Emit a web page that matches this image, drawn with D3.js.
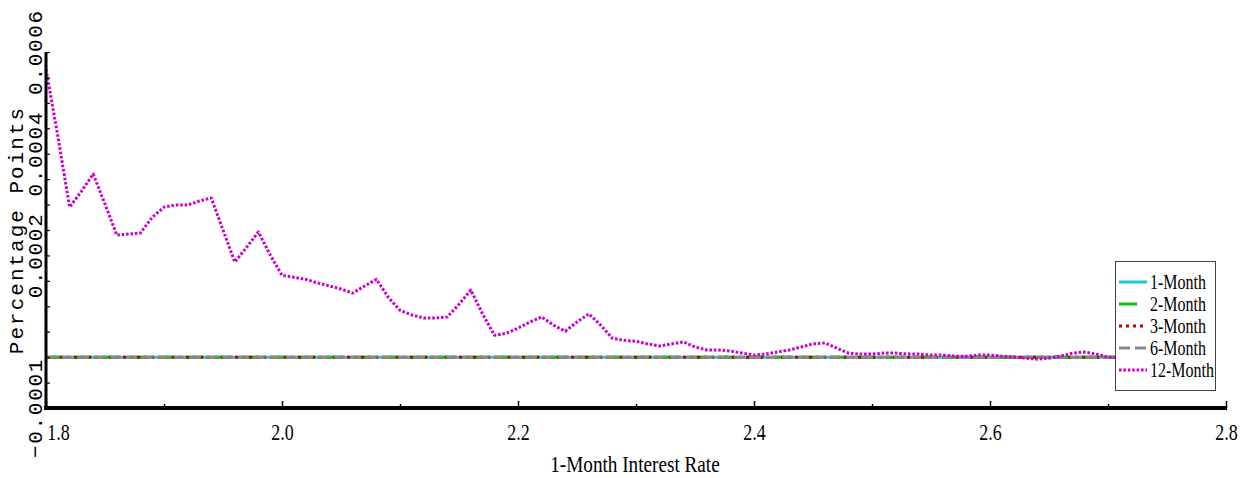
<!DOCTYPE html>
<html>
<head>
<meta charset="utf-8">
<script src="https://cdn.jsdelivr.net/npm/d3@7"></script>
<style>
  html, body { margin: 0; padding: 0; background: #fff; }
  svg { display: block; }
</style>
</head>
<body>
<svg id="chart" width="1248" height="478"></svg>
<script>
// 1-month interest rate grid (x axis values)
const rates = [
  1.80, 1.81, 1.82, 1.83, 1.84, 1.85, 1.86, 1.87, 1.88, 1.89,
  1.90, 1.91, 1.92, 1.93, 1.94, 1.95, 1.96, 1.97, 1.98, 1.99,
  2.00, 2.01, 2.02, 2.03, 2.04, 2.05, 2.06, 2.07, 2.08, 2.09,
  2.10, 2.11, 2.12, 2.13, 2.14, 2.15, 2.16, 2.17, 2.18, 2.19,
  2.20, 2.21, 2.22, 2.23, 2.24, 2.25, 2.26, 2.27, 2.28, 2.29,
  2.30, 2.31, 2.32, 2.33, 2.34, 2.35, 2.36, 2.37, 2.38, 2.39,
  2.40, 2.41, 2.42, 2.43, 2.44, 2.45, 2.46, 2.47, 2.48, 2.49,
  2.50, 2.51, 2.52, 2.53, 2.54, 2.55, 2.56, 2.57, 2.58, 2.59,
  2.60, 2.61, 2.62, 2.63, 2.64, 2.65, 2.66, 2.67, 2.68, 2.69,
  2.70, 2.71, 2.72, 2.73
];

// Responses in percentage points, one array per maturity
const month1 = [
  0,0,0,0,0,0,0,0,0,0, 0,0,0,0,0,0,0,0,0,0, 0,0,0,0,0,0,0,0,0,0,
  0,0,0,0,0,0,0,0,0,0, 0,0,0,0,0,0,0,0,0,0, 0,0,0,0,0,0,0,0,0,0,
  0,0,0,0,0,0,0,0,0,0, 0,0,0,0,0,0,0,0,0,0, 0,0,0,0,0,0,0,0,0,0,
  0,0,0,0
];
const month2 = [
  0,0,0,0,0,0,0,0,0,0, 0,0,0,0,0,0,0,0,0,0, 0,0,0,0,0,0,0,0,0,0,
  0,0,0,0,0,0,0,0,0,0, 0,0,0,0,0,0,0,0,0,0, 0,0,0,0,0,0,0,0,0,0,
  0,0,0,0,0,0,0,0,0,0, 0,0,0,0,0,0,0,0,0,0, 0,0,0,0,0,0,0,0,0,0,
  0,0,0,0
];
const month3 = [
  0,0,0,0,0,0,0,0,0,0, 0,0,0,0,0,0,0,0,0,0, 0,0,0,0,0,0,0,0,0,0,
  0,0,0,0,0,0,0,0,0,0, 0,0,0,0,0,0,0,0,0,0, 0,0,0,0,0,0,0,0,0,0,
  0,0,0,0,0,0,0,0,0,0, 0,0,0,0,0,0,0,0,0,0, 0,0,0,0,0,0,0,0,0,0,
  0,0,0,0
];
const month6 = [
  0,0,0,0,0,0,0,0,0,0, 0,0,0,0,0,0,0,0,0,0, 0,0,0,0,0,0,0,0,0,0,
  0,0,0,0,0,0,0,0,0,0, 0,0,0,0,0,0,0,0,0,0, 0,0,0,0,0,0,0,0,0,0,
  0,0,0,0,0,0,0,0,0,0, 0,0,0,0,0,0,0,0,0,0, 0,0,0,0,0,0,0,0,0,0,
  0,0,0,0
];
const month12 = [
  0.000566, 0.000435, 0.000295, 0.000326, 0.000360, 0.000301, 0.000240, 0.000242, 0.000244, 0.000275,
  0.000295, 0.000299, 0.000299, 0.000307, 0.000313, 0.000250, 0.000187, 0.000216, 0.000246, 0.000201,
  0.000161, 0.000157, 0.000153, 0.000146, 0.000140, 0.000134, 0.000126, 0.000140, 0.000153, 0.000118,
  0.000092, 0.000083, 0.000077, 0.000077, 0.000079, 0.000104, 0.000132, 0.000085, 0.000043, 0.000047,
  0.000057, 0.000069, 0.000079, 0.000063, 0.000051, 0.000069, 0.000085, 0.000063, 0.000037, 0.000033,
  0.000031, 0.000026, 0.000022, 0.000026, 0.000030, 0.000020, 0.000014, 0.000014, 0.000012, 0.000008,
  0.000004, 0.000006, 0.000010, 0.000014, 0.000020, 0.000026, 0.000028, 0.000018, 0.000008, 0.000006,
  0.000006, 0.000008, 0.000008, 0.000006, 0.000006, 0.000004, 0.000004, 0.000002, 0.000002, 0.000004,
  0.000004, 0.000002, 0.000000, -0.000002, -0.000004, -0.000002, 0.000002, 0.000008, 0.000010, 0.000006,
  0.000000, -0.000002, 0.000000, 0.000000
];

const seriesNames = ["1-Month", "2-Month", "3-Month", "6-Month", "12-Month"];

// Axis ticks
const xMajorTicks = [1.8, 2.0, 2.2, 2.4, 2.6, 2.8];
const xMinorTicks = [1.9, 2.1, 2.3, 2.5, 2.7];
const yTicks = [-0.0001, -0.00005, 0, 0.00005, 0.0001, 0.00015, 0.0002, 0.00025,
                0.0003, 0.00035, 0.0004, 0.00045, 0.0005, 0.00055, 0.0006];
const yLabelTicks = [-0.0001, 0.0002, 0.0004, 0.0006];
const yLabelText = ["\u22120.0001", "0.0002", "0.0004", "0.0006"];

const xTitle = "1-Month Interest Rate";
const yTitle = "Percentage Points";

// ---- drawing ----
const svg = d3.select("#chart");
const x = d3.scaleLinear().domain([1.8, 2.8]).range([46, 1226]);
const y = d3.scaleLinear().domain([-0.0001, 0.0006]).range([408, 52]);

const serifFont = "'Liberation Serif', 'Times New Roman', serif";
const monoFont = "'Liberation Mono', 'Courier New', monospace";

const styles = [
  { color: "#1ec8d4", dash: null,      width: 3 },
  { color: "#00c800", dash: "18,10",   width: 3 },
  { color: "#c80000", dash: "3,4",     width: 3 },
  { color: "#888888", dash: "11,5",    width: 3 },
  { color: "#cc00cc", dash: "2.6,1.8", width: 3 }
];
const seriesData = [month1, month2, month3, month6, month12];

const line = d3.line()
  .x((d, i) => x(rates[i]))
  .y(d => y(d));

const plot = svg.append("g");
seriesData.forEach((vals, k) => {
  plot.append("path")
    .datum(vals)
    .attr("d", line)
    .attr("fill", "none")
    .attr("stroke", styles[k].color)
    .attr("stroke-width", styles[k].width)
    .attr("stroke-dasharray", styles[k].dash)
    .attr("stroke-linejoin", "round");
});

// x axis: major ticks with labels, minor ticks without
const xAxisMajor = svg.append("g")
  .attr("transform", "translate(0,408)")
  .call(d3.axisBottom(x).tickValues(xMajorTicks).tickSize(-7).tickPadding(14)
        .tickFormat(d3.format(".1f")));
const xAxisMinor = svg.append("g")
  .attr("transform", "translate(0,408)")
  .call(d3.axisBottom(x).tickValues(xMinorTicks).tickSize(-4).tickFormat(""));
[xAxisMajor, xAxisMinor].forEach(g => {
  g.select(".domain").remove();
  g.selectAll(".tick line").attr("stroke", "#000").attr("stroke-width", 1.5);
});
xAxisMajor.selectAll(".tick text")
  .attr("font-family", serifFont)
  .attr("font-size", 23)
  .attr("fill", "#000")
  .attr("dy", 0)
  .attr("y", 32)
  .attr("transform", "scale(0.78,1)")
  .attr("text-anchor", (d, i) => i === 0 ? "start" : "middle")
  .attr("x", (d, i) => i === 0 ? 1 : 0);

// y axis: inward ticks
const yAxis = svg.append("g")
  .attr("transform", "translate(46,0)")
  .call(d3.axisLeft(y).tickValues(yTicks).tickSize(-4).tickFormat(""));
yAxis.select(".domain").remove();
yAxis.selectAll(".tick line").attr("stroke", "#000").attr("stroke-width", 1.2);

// heavy axis lines
svg.append("line").attr("x1", 46).attr("x2", 46).attr("y1", 52).attr("y2", 409)
  .attr("stroke", "#000").attr("stroke-width", 3);
svg.append("line").attr("x1", 44).attr("x2", 1227).attr("y1", 408).attr("y2", 408)
  .attr("stroke", "#000").attr("stroke-width", 4);

// y tick labels, rotated
svg.append("g").selectAll("text")
  .data(yLabelTicks)
  .join("text")
  .attr("transform", d => `translate(42,${y(d)}) rotate(-90)`)
  .attr("text-anchor", "middle")
  .attr("font-family", monoFont)
  .attr("font-size", 21)
  .attr("letter-spacing", 1.7)
  .attr("fill", "#000")
  .text((d, i) => yLabelText[i]);

// axis titles
svg.append("text")
  .attr("transform", "translate(23,230) rotate(-90)")
  .attr("text-anchor", "middle")
  .attr("font-family", monoFont)
  .attr("font-size", 21)
  .attr("letter-spacing", 2)
  .attr("fill", "#000")
  .text(yTitle);

svg.append("text")
  .attr("transform", "translate(635,472) scale(0.8,1)")
  .attr("text-anchor", "middle")
  .attr("font-family", serifFont)
  .attr("font-size", 24)
  .attr("fill", "#000")
  .text(xTitle);

// legend
const legend = svg.append("g");
legend.append("rect")
  .attr("x", 1115.5).attr("y", 261.5).attr("width", 100).attr("height", 129)
  .attr("fill", "#fff").attr("stroke", "#444").attr("stroke-width", 1);
const rowY = [282, 304, 326, 348, 370];
seriesNames.forEach((name, k) => {
  legend.append("line")
    .attr("x1", 1119).attr("x2", 1147)
    .attr("y1", rowY[k]).attr("y2", rowY[k])
    .attr("stroke", styles[k].color)
    .attr("stroke-width", styles[k].width)
    .attr("stroke-dasharray", styles[k].dash);
  legend.append("text")
    .attr("transform", `translate(1150,${rowY[k] + 7}) scale(0.8,1)`)
    .attr("font-family", serifFont)
    .attr("font-size", 20)
    .attr("fill", "#000")
    .text(name);
});
</script>
</body>
</html>
